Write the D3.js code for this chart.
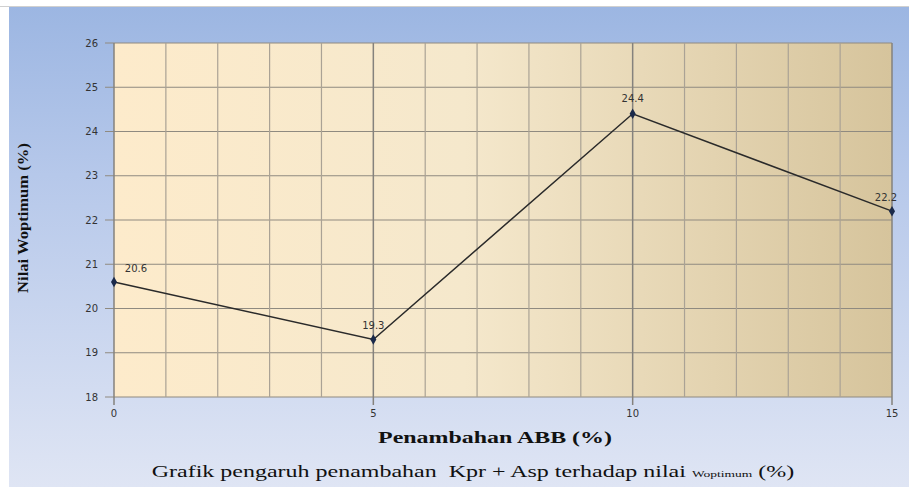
<!DOCTYPE html>
<html><head><meta charset="utf-8">
<script src="https://cdn.jsdelivr.net/npm/d3@7"></script>
<style>body{margin:0;background:#fff}svg{display:block}</style>
</head><body>
<script>
const xValues = [0, 5, 10, 15];
const yValues = [20.6, 19.3, 24.4, 22.2];
const yTicks = [18, 19, 20, 21, 22, 23, 24, 25, 26];
const xTicks = [0, 5, 10, 15];
const xGrid = d3.range(0, 16, 1);
const labelOffsets = [[22, -10], [0, -10], [0, -12], [-6, -10]];

const W = 909, H = 487;
const svg = d3.select("body").append("svg").attr("width", W).attr("height", H);
const defs = svg.append("defs");
const bg = defs.append("linearGradient").attr("id", "bg").attr("x1", 0).attr("y1", 0).attr("x2", 0).attr("y2", 1);
bg.append("stop").attr("offset", "0%").attr("stop-color", "#9cb6e2");
bg.append("stop").attr("offset", "35%").attr("stop-color", "#b6c8ea");
bg.append("stop").attr("offset", "100%").attr("stop-color", "#dfe5f4");
const pg = defs.append("linearGradient").attr("id", "pg").attr("x1", 0).attr("y1", 0).attr("x2", 1).attr("y2", 0);
pg.append("stop").attr("offset", "0%").attr("stop-color", "#fdebcb");
pg.append("stop").attr("offset", "45%").attr("stop-color", "#f5e8cc");
pg.append("stop").attr("offset", "100%").attr("stop-color", "#d6c49c");

svg.append("rect").attr("x", 9).attr("y", 7).attr("width", W - 9).attr("height", H - 7).attr("fill", "url(#bg)");
svg.append("line").attr("x1", 0).attr("x2", W).attr("y1", 6.5).attr("y2", 6.5).attr("stroke", "#d0d0d0");

const L = 114, R = 892, T = 43, B = 397;
const x = d3.scaleLinear().domain([0, 15]).range([L, R]);
const y = d3.scaleLinear().domain([18, 26]).range([B, T]);

svg.append("rect").attr("x", L).attr("y", T).attr("width", R - L).attr("height", B - T).attr("fill", "url(#pg)");

svg.append("g").selectAll("line").data(yTicks).join("line")
  .attr("x1", L - 9).attr("x2", R).attr("y1", d => y(d)).attr("y2", d => y(d))
  .attr("stroke", "#8f8a80").attr("stroke-width", 1.2);
svg.append("g").selectAll("line").data(xGrid).join("line")
  .attr("x1", d => x(d)).attr("x2", d => x(d)).attr("y1", T).attr("y2", d => xTicks.includes(d) ? B + 8 : B)
  .attr("stroke", d => xTicks.includes(d) ? "#85827d" : "#aaa295").attr("stroke-width", d => xTicks.includes(d) ? 1.5 : 1.2);

const tickFont = "'DejaVu Sans', Verdana, sans-serif";
svg.append("g").selectAll("text").data(yTicks).join("text")
  .attr("x", 98).attr("y", d => y(d) + 3.5).attr("text-anchor", "end")
  .attr("font-family", tickFont).attr("font-size", 10).attr("fill", "#333")
  .text(d => d);
svg.append("g").selectAll("text").data(xTicks).join("text")
  .attr("x", d => x(d)).attr("y", 417).attr("text-anchor", "middle")
  .attr("font-family", tickFont).attr("font-size", 10).attr("fill", "#333")
  .text(d => d);

const pts = xValues.map((v, i) => [v, yValues[i]]);
svg.append("path").datum(pts)
  .attr("d", d3.line().x(d => x(d[0])).y(d => y(d[1])))
  .attr("fill", "none").attr("stroke", "#2a2a2a").attr("stroke-width", 1.5);
svg.append("g").selectAll("path").data(pts).join("path")
  .attr("transform", d => `translate(${x(d[0])},${y(d[1])})`)
  .attr("d", d3.symbol(d3.symbolDiamond, 32)())
  .attr("fill", "#1b2a4a");
svg.append("g").selectAll("text").data(pts).join("text")
  .attr("x", (d, i) => x(d[0]) + labelOffsets[i][0])
  .attr("y", (d, i) => y(d[1]) + labelOffsets[i][1])
  .attr("text-anchor", "middle")
  .attr("font-family", tickFont).attr("font-size", 10).attr("fill", "#333")
  .text(d => d[1].toFixed(1));

// helper: stretch a text node horizontally to a target width around its centre
function fitWidth(sel, cx, cy, target, rotate) {
  const w = sel.node().getComputedTextLength();
  const s = target / w;
  sel.attr("x", 0).attr("y", 0).attr("text-anchor", "middle")
    .attr("transform", `translate(${cx},${cy})${rotate ? " rotate(-90)" : ""} scale(${s},1)`);
}
const serif = "'Liberation Serif', 'Times New Roman', serif";
const yl = svg.append("text").attr("font-family", serif).attr("font-weight", "bold")
  .attr("font-size", 15).attr("fill", "#111").text("Nilai Woptimum (%)");
fitWidth(yl, 28, 218, 150, true);
const xl = svg.append("text").attr("font-family", serif).attr("font-weight", "bold")
  .attr("font-size", 17).attr("fill", "#111").text("Penambahan ABB (%)");
fitWidth(xl, 495, 443, 234, false);
const cap = svg.append("text").attr("font-family", serif)
  .attr("font-size", 16).attr("fill", "#111");
cap.append("tspan").text("Grafik pengaruh penambahan \u00a0Kpr + Asp terhadap nilai ");
cap.append("tspan").attr("font-size", 9).text("Woptimum");
cap.append("tspan").text(" (%)");
fitWidth(cap, 473, 477, 643, false);
</script>
</body></html>
